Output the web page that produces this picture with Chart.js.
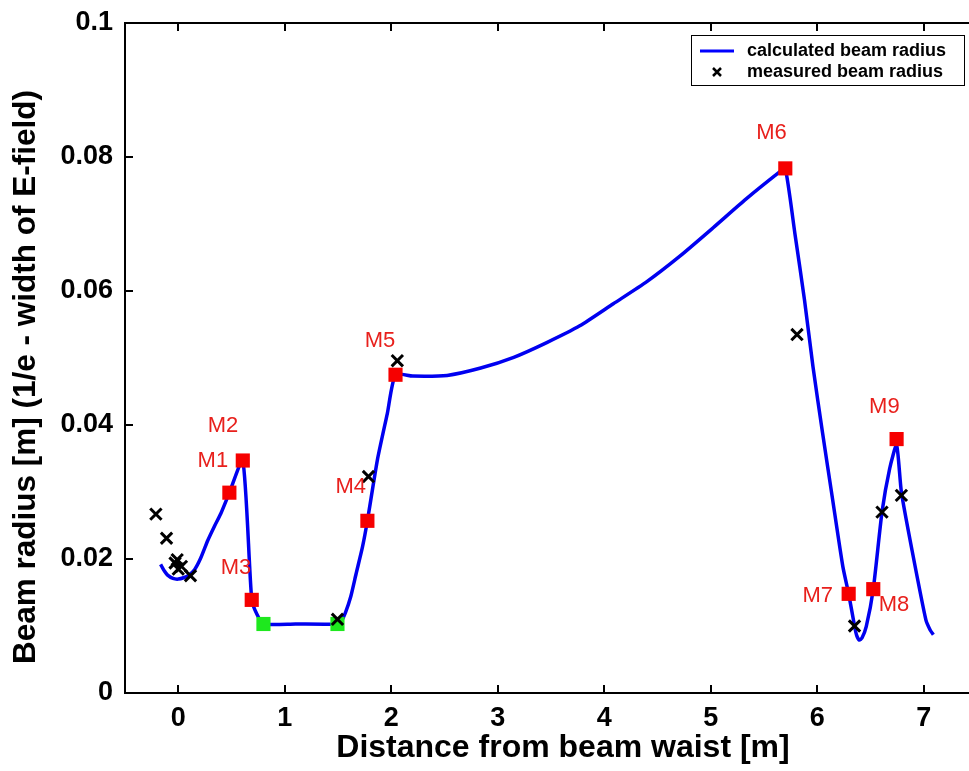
<!DOCTYPE html>
<html>
<head>
<meta charset="utf-8">
<script src="https://cdn.jsdelivr.net/npm/chart.js@4.4.0/dist/chart.umd.min.js"></script>
<style>
  html, body { margin: 0; padding: 0; background: #fff; overflow: hidden; }
  #wrap { width: 990px; height: 771px; }
</style>
</head>
<body>
<div id="wrap"><canvas id="beamChart" width="990" height="771"></canvas></div>
<script>
// calculated beam radius (blue curve)
const calcX = [-0.166, -0.13, -0.10, -0.05, 0.0, 0.05, 0.10, 0.153, 0.21, 0.278, 0.34, 0.40, 0.48, 0.606,
  0.69, 0.74, 0.80, 1.10, 1.495, 1.53, 1.57, 1.62, 1.67, 1.73, 1.776, 1.87, 1.963, 2.04,
  2.2, 2.525, 2.84, 3.15, 3.46, 3.77, 4.085, 4.40, 4.71, 5.02, 5.33, 5.65, 5.70,
  5.79, 5.88, 5.96, 6.05, 6.145, 6.24, 6.295, 6.35, 6.37, 6.395, 6.42, 6.46, 6.526, 6.608,
  6.68, 6.745, 6.79, 6.89, 7.02, 7.06, 7.09];
const calcY = [0.0192, 0.0182, 0.0176, 0.0171, 0.0170, 0.0172, 0.0176, 0.0184, 0.0201, 0.0228, 0.0249, 0.0268, 0.0299, 0.0347,
  0.0139, 0.0117, 0.0103, 0.0103, 0.0103, 0.0107, 0.0120, 0.0144, 0.0178, 0.0218, 0.0257, 0.0348, 0.0417, 0.0475,
  0.0473, 0.0474, 0.0485, 0.0501, 0.0523, 0.0548, 0.0581, 0.0614, 0.0652, 0.0694, 0.0737, 0.0778, 0.0783,
  0.0686, 0.0587, 0.0487, 0.0388, 0.0288, 0.0189, 0.0148, 0.0100, 0.0086, 0.0079, 0.0082, 0.0099, 0.0155, 0.0270,
  0.0335, 0.0370, 0.0300, 0.0213, 0.0109, 0.0094, 0.0087];

// measured beam radius (black crosses)
const measX = [-0.21, -0.11, -0.03, -0.01, 0.0, 0.03, 0.115, 1.495, 1.786, 2.057, 5.81, 6.35, 6.608, 6.79];
const measY = [0.0267, 0.0231, 0.0194, 0.0199, 0.0185, 0.0189, 0.0175, 0.0110, 0.0323, 0.0496, 0.0535, 0.0100, 0.0270, 0.0295];

// mirrors (red squares) and their labels
const mirrorX = [0.48, 0.606, 0.69, 1.776, 2.04, 5.70, 6.295, 6.526, 6.745];
const mirrorY = [0.0299, 0.0347, 0.0139, 0.0257, 0.0475, 0.0783, 0.0148, 0.0155, 0.0379];
const labelNames = ['M1', 'M2', 'M3', 'M4', 'M5', 'M6', 'M7', 'M8', 'M9'];
const labelX = [0.325, 0.42, 0.543, 1.62, 1.894, 5.57, 6.005, 6.72, 6.63];
const labelY = [0.0347, 0.0399, 0.0186, 0.0308, 0.0526, 0.0836, 0.0145, 0.0131, 0.0427];

// green squares
const greenX = [0.80, 1.495];
const greenY = [0.0103, 0.0103];

// ticks
const xTicks = [0, 1, 2, 3, 4, 5, 6, 7];
const yTicks = [0, 0.02, 0.04, 0.06, 0.08, 0.1];

const xTitle = 'Distance from beam waist [m]';
const yTitle = 'Beam radius [m] (1/e - width of E-field)';

const FONT = "'Liberation Sans', Arial, Helvetica, sans-serif";

function toPoints(xs, ys) {
  return xs.map((x, i) => ({ x: x, y: ys[i] }));
}

// box round the plot plus inward tick marks on all four sides
const frameTicks = {
  id: 'frameTicks',
  afterDraw(chart) {
    const { ctx, chartArea: a, scales } = chart;
    const len = 8;
    ctx.save();
    ctx.strokeStyle = '#000';
    ctx.lineWidth = 2;
    ctx.strokeRect(a.left, a.top, a.right - a.left, a.bottom - a.top);
    ctx.beginPath();
    xTicks.forEach(v => {
      const px = Math.round(scales.x.getPixelForValue(v));
      ctx.moveTo(px, a.bottom); ctx.lineTo(px, a.bottom - len);
      ctx.moveTo(px, a.top); ctx.lineTo(px, a.top + len);
    });
    yTicks.forEach(v => {
      const py = Math.round(scales.y.getPixelForValue(v));
      ctx.moveTo(a.left, py); ctx.lineTo(a.left + len, py);
      ctx.moveTo(a.right, py); ctx.lineTo(a.right - len, py);
    });
    ctx.stroke();
    ctx.restore();
  }
};

// axis titles (placed a little off the axis centre, like the original figure)
const axisTitles = {
  id: 'axisTitles',
  afterDraw(chart) {
    const { ctx, chartArea: a } = chart;
    ctx.save();
    ctx.fillStyle = '#000';
    ctx.textAlign = 'center';
    ctx.textBaseline = 'middle';
    ctx.font = 'bold 32px ' + FONT;
    ctx.fillText(xTitle, (a.left + a.right) / 2 + 12, 748);
    ctx.translate(26, (a.top + a.bottom) / 2 + 19);
    ctx.rotate(-Math.PI / 2);
    ctx.font = 'bold 31.5px ' + FONT;
    ctx.fillText(yTitle, 0, 0);
    ctx.restore();
  }
};

// M1..M9 text next to the mirrors
const mirrorLabels = {
  id: 'mirrorLabels',
  afterDatasetsDraw(chart) {
    const { ctx, scales } = chart;
    ctx.save();
    ctx.fillStyle = '#e8201c';
    ctx.font = '22px ' + FONT;
    ctx.textAlign = 'center';
    ctx.textBaseline = 'middle';
    labelNames.forEach((name, i) => {
      ctx.fillText(name, scales.x.getPixelForValue(labelX[i]), scales.y.getPixelForValue(labelY[i]));
    });
    ctx.restore();
  }
};

// boxed legend in the top right corner
const legendBox = {
  id: 'legendBox',
  afterDraw(chart) {
    const { ctx, chartArea: a } = chart;
    const w = 273, h = 50;
    const x0 = a.right - 13 - w, y0 = a.top + 12;
    ctx.save();
    ctx.fillStyle = '#fff';
    ctx.fillRect(x0, y0, w, h);
    ctx.strokeStyle = '#000';
    ctx.lineWidth = 1;
    ctx.strokeRect(x0 + 0.5, y0 + 0.5, w, h);
    // line sample
    ctx.strokeStyle = '#0000ff';
    ctx.lineWidth = 3;
    ctx.beginPath();
    ctx.moveTo(x0 + 9, y0 + 16);
    ctx.lineTo(x0 + 43, y0 + 16);
    ctx.stroke();
    // cross sample
    const cx = x0 + 26, cy = y0 + 37, r = 4;
    ctx.strokeStyle = '#000';
    ctx.lineWidth = 2.5;
    ctx.beginPath();
    ctx.moveTo(cx - r, cy - r); ctx.lineTo(cx + r, cy + r);
    ctx.moveTo(cx - r, cy + r); ctx.lineTo(cx + r, cy - r);
    ctx.stroke();
    ctx.fillStyle = '#000';
    ctx.font = 'bold 18px ' + FONT;
    ctx.textAlign = 'left';
    ctx.textBaseline = 'middle';
    ctx.fillText('calculated beam radius', x0 + 56, y0 + 16);
    ctx.fillText('measured beam radius', x0 + 56, y0 + 37);
    ctx.restore();
  }
};

const ctx = document.getElementById('beamChart').getContext('2d');
const beamChart = new Chart(ctx, {
  type: 'scatter',
  data: {
    datasets: [{
      label: 'measured beam radius',
      data: toPoints(measX, measY),
      pointStyle: 'crossRot',
      pointRadius: 8,
      borderColor: '#000',
      borderWidth: 3,
      order: 0
    }, {
      label: 'mirrors',
      data: toPoints(mirrorX, mirrorY),
      pointStyle: 'rect',
      pointRadius: 10,
      backgroundColor: '#f60000',
      borderColor: '#f60000',
      borderWidth: 0,
      order: 1
    }, {
      label: 'green',
      data: toPoints(greenX, greenY),
      pointStyle: 'rect',
      pointRadius: 10,
      backgroundColor: '#1ee81e',
      borderColor: '#1ee81e',
      borderWidth: 0,
      order: 2
    }, {
      label: 'calculated beam radius',
      data: toPoints(calcX, calcY),
      showLine: true,
      pointRadius: 0,
      borderColor: '#0000f0',
      borderWidth: 3.5,
      tension: 0.2,
      borderJoinStyle: 'round',
      order: 3
    }]
  },
  options: {
    responsive: false,
    animation: false,
    layout: { padding: { top: 23, right: 13, left: 0, bottom: 0 } },
    plugins: {
      legend: { display: false },
      tooltip: { enabled: false }
    },
    scales: {
      x: {
        type: 'linear',
        min: -0.5,
        max: 7.5,
        afterBuildTicks: s => { s.ticks = xTicks.map(v => ({ value: v })); },
        afterFit: s => { s.height = 78; s.paddingLeft = 0; s.paddingRight = 0; },
        grid: { display: false, drawTicks: false },
        border: { display: false },
        ticks: { color: '#000', padding: 9, font: { family: FONT, size: 27, weight: 'bold' } },
        title: { display: false }
      },
      y: {
        type: 'linear',
        min: 0,
        max: 0.1,
        afterBuildTicks: s => { s.ticks = yTicks.map(v => ({ value: v })); },
        afterFit: s => { s.width = 125; s.paddingTop = 0; s.paddingBottom = 0; },
        grid: { display: false, drawTicks: false },
        border: { display: false },
        ticks: {
          color: '#000',
          padding: 12,
          font: { family: FONT, size: 27, weight: 'bold' },
          callback: v => String(Number(v.toFixed(2)))
        },
        title: { display: false }
      }
    }
  },
  plugins: [frameTicks, axisTitles, mirrorLabels, legendBox]
});
</script>
</body>
</html>
